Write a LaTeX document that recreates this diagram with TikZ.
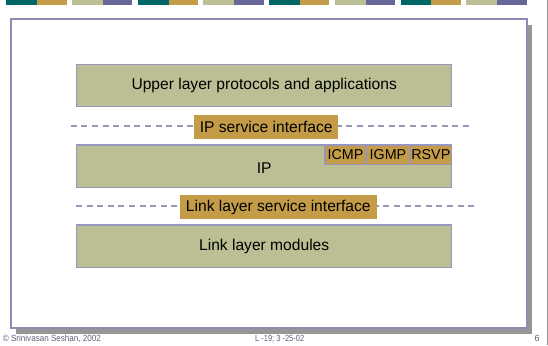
\documentclass[tikz,border=0pt]{standalone}
\usepackage{fontspec}
\setmainfont{Liberation Sans}
\definecolor{cteal}{RGB}{0,102,102}
\definecolor{cgold}{RGB}{196,156,72}
\definecolor{ckhaki}{RGB}{187,191,147}
\definecolor{cpurple}{RGB}{102,102,153}
\definecolor{cborder}{RGB}{150,150,190}
\definecolor{cframe}{RGB}{140,140,180}
\definecolor{cdash}{RGB}{150,150,185}
\definecolor{cshadow}{RGB}{150,150,150}
\definecolor{cfoot}{RGB}{95,95,120}
\newcommand\fitw[2]{\resizebox{#1}{\height}{#2}}
\begin{document}
\begin{tikzpicture}[x=1pt,y=-1pt,
  layerbox/.style={draw=cborder, line width=1.2pt, fill=ckhaki, inner sep=0pt,
    minimum width=375pt, minimum height=42pt, font=\fontsize{15.6}{18}\selectfont},
  subbox/.style={draw=cborder, line width=1.2pt, fill=cgold, inner sep=0pt,
    minimum height=19.3pt, font=\fontsize{14.3}{16}\selectfont},
  ifacebox/.style={fill=cgold, inner sep=0pt, minimum height=24pt,
    font=\fontsize{15.6}{18}\selectfont},
  ifaceline/.style={draw=cdash, line width=1.1pt, dash pattern=on 6pt off 4.6pt},
  foot/.style={text=cfoot, inner sep=0pt, anchor=base west, font=\fontsize{9}{10}\selectfont}]
\useasboundingbox (0,0) rectangle (548,345);
% top colour bar
\foreach \i/\ca/\cb in {0/cteal/cgold,1/ckhaki/cpurple,2/cteal/cgold,3/ckhaki/cpurple,
                        4/cteal/cgold,5/ckhaki/cpurple,6/cteal/cgold,7/ckhaki/cpurple}{
  \fill[\ca] (6.3+65.7*\i,0) rectangle (37.1+65.7*\i,5.2);
  \fill[\cb] (37.1+65.7*\i,0) rectangle (66.6+65.7*\i,5.2);
}
% right edge line
\draw[cshadow, line width=0.8pt] (547.2,0) -- (547.2,345);
% frame with shadow
\fill[cshadow] (15.7,25) rectangle (532,333.5);
\draw[cframe, fill=white, line width=1.6pt] (11.2,19.2) rectangle (527,327.8);
% layers
\node[layerbox] (upper) at (264.2,85.8) {Upper layer protocols and applications};
\coordinate (d1l) at (70.7,126);
\coordinate (d1r) at (469.3,126);
\draw[ifaceline] (d1l) -- (d1r);
\node[ifacebox, minimum width=144.3pt] (ipsi) at (266.2,127) {IP service interface};
\node[layerbox, minimum height=42.3pt] (ip) at (264.2,166.2) {};
\node (iplabel) at (264.2,168) {\fontsize{15.6}{18}\selectfont IP};
\node[subbox, minimum width=41pt] (icmp) at (345.5,154.7) {ICMP};
\node[subbox, minimum width=44pt] (igmp) at (388,154.7) {IGMP};
\node[subbox, minimum width=41.7pt] (rsvp) at (430.85,154.7) {RSVP};
\coordinate (d2l) at (76,206);
\coordinate (d2r) at (474,206);
\draw[ifaceline] (d2l) -- (d2r);
\node[ifacebox, minimum width=196.7pt] (llsi) at (278.3,207) {Link layer service interface};
\node[layerbox, minimum height=42.3pt] (link) at (264.2,246.2) {Link layer modules};
% footer
\node[foot] (f1) at (2.7,341.5) {\fitw{98pt}{© Srinivasan Seshan, 2002}};
\node[foot] (f2) at (255,341.5) {\fitw{49pt}{L -19; 3 -25-02}};
\node[foot] (f3) at (534.3,341.5) {6};
\end{tikzpicture}
\end{document}
